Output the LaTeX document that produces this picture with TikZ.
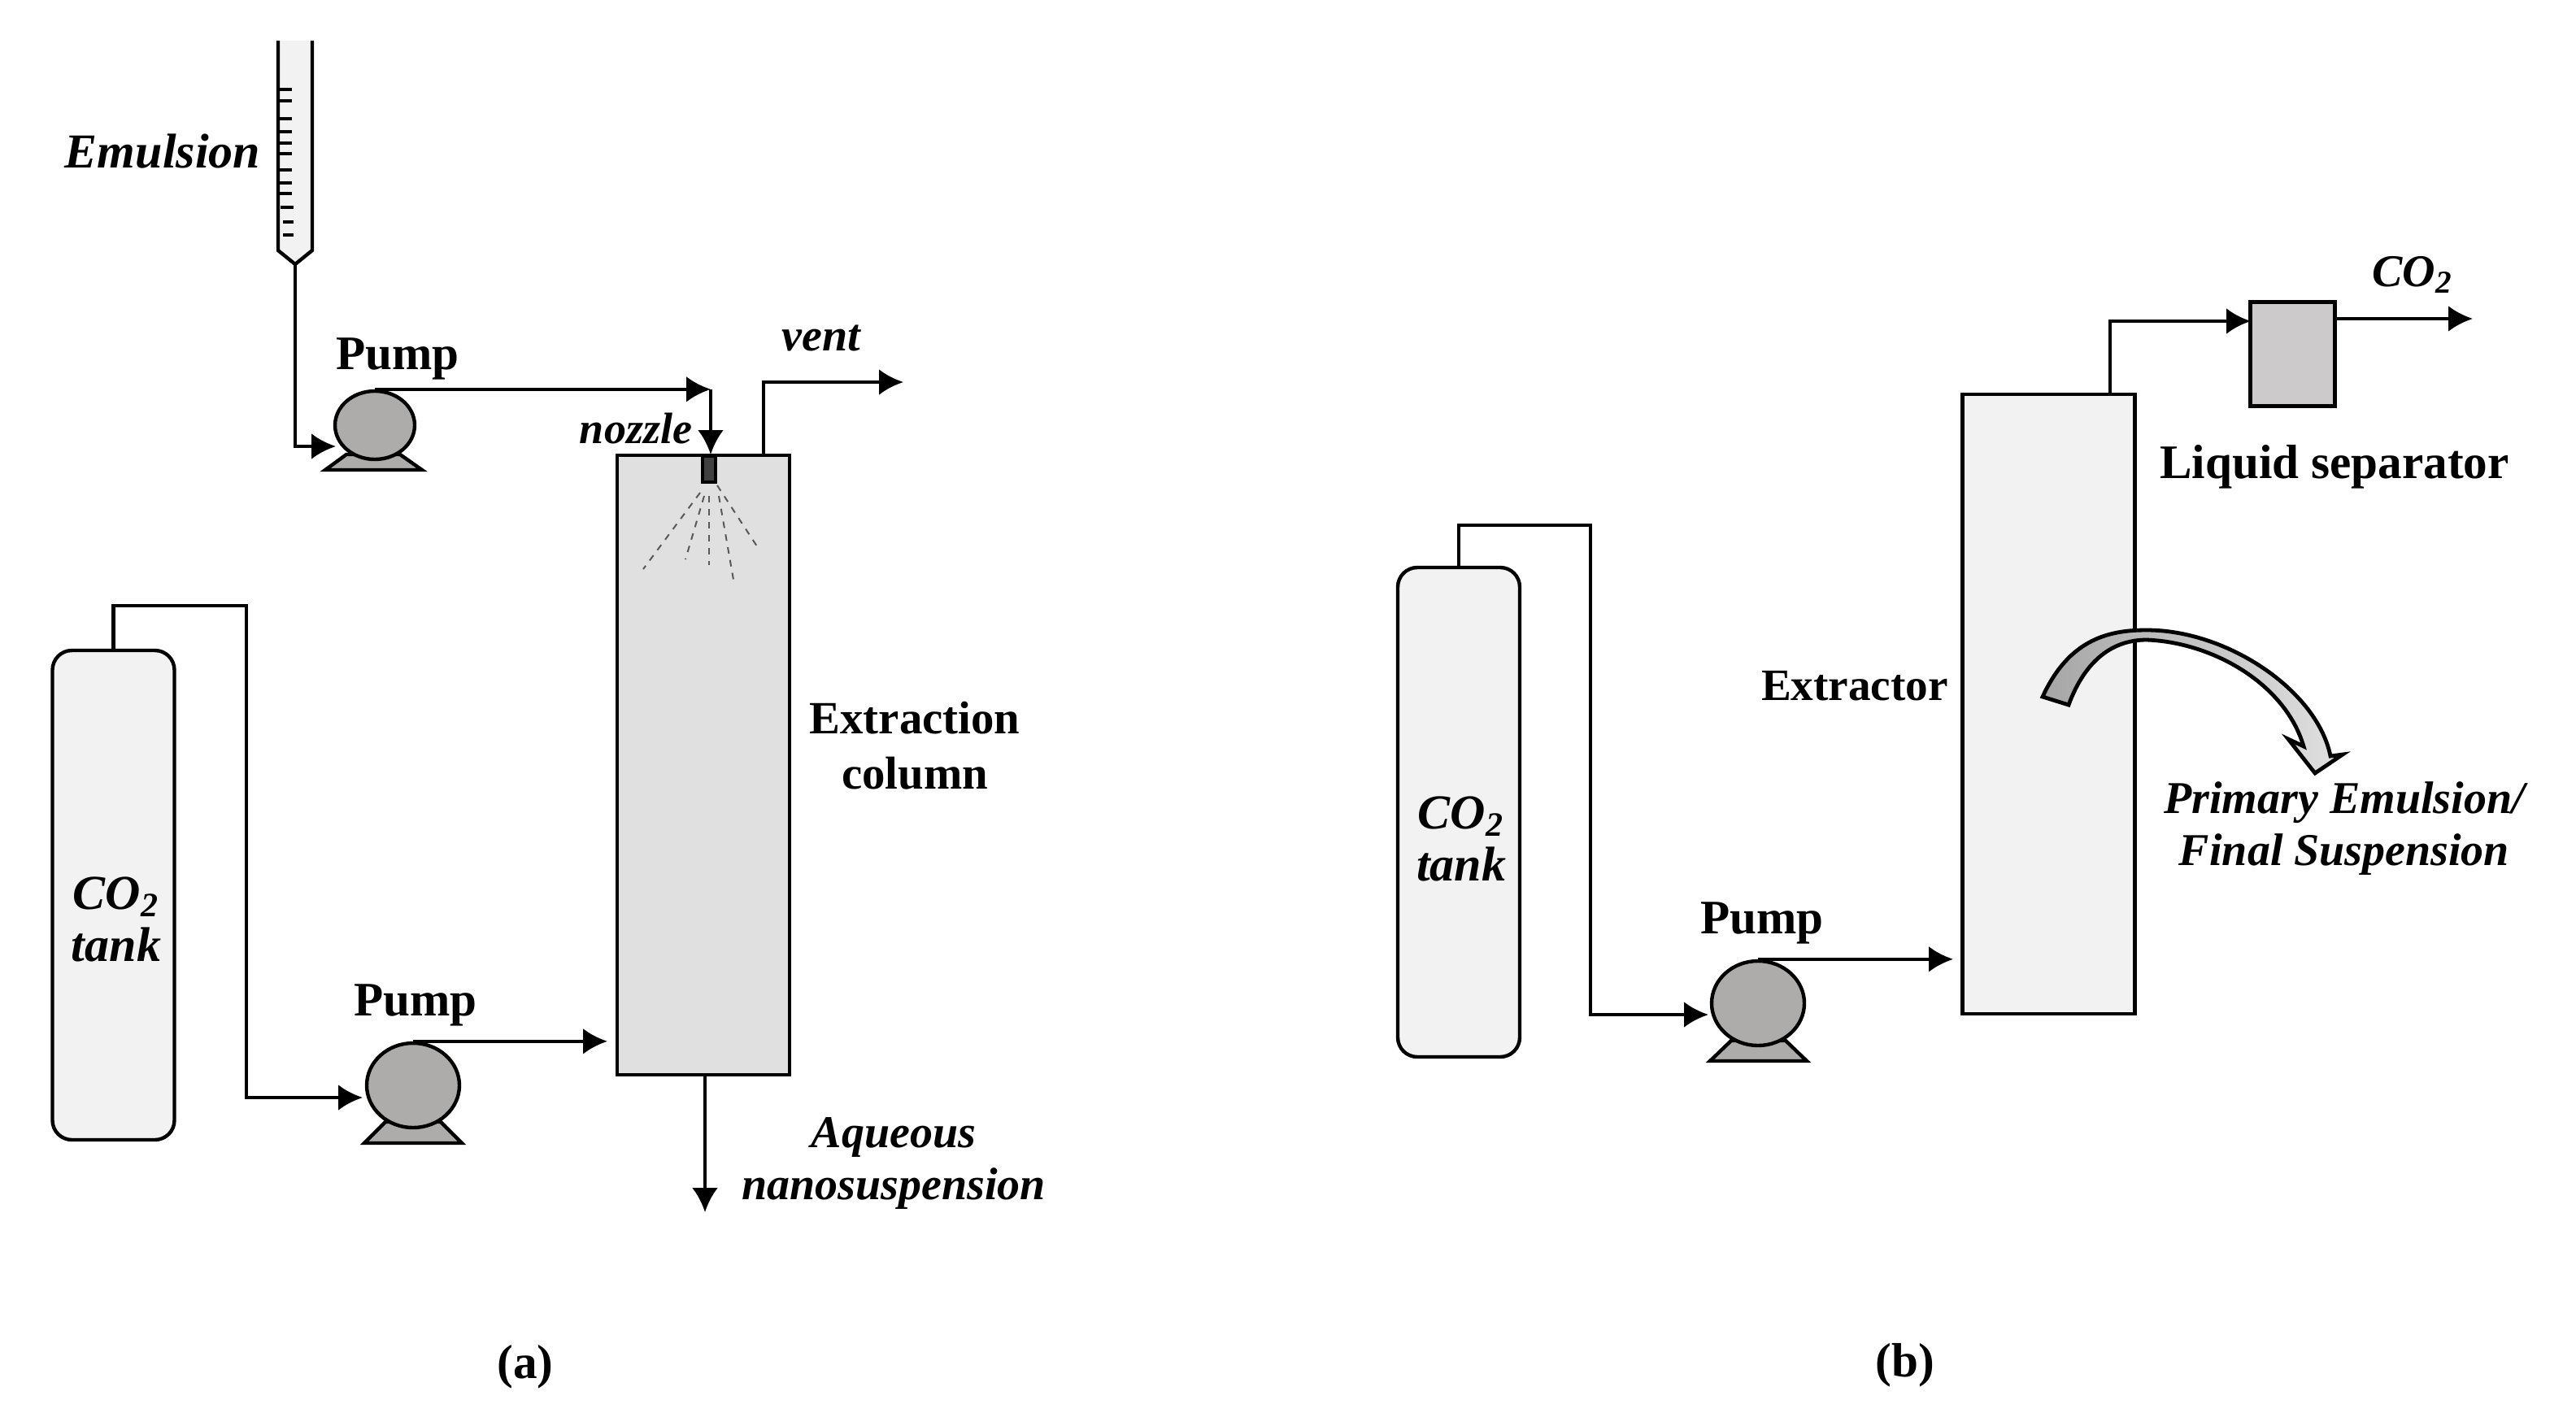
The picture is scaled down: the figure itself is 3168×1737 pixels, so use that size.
\documentclass[tikz,border=0pt]{standalone}
\usepackage{fontspec}
\setmainfont{Liberation Serif}
\usetikzlibrary{arrows.meta,shapes.geometric}
\definecolor{vesselfill}{HTML}{F2F2F2}
\definecolor{columnfill}{HTML}{E0E0E0}
\definecolor{pumpfill}{HTML}{AEABAB}
\definecolor{sepfill}{HTML}{CCCACA}
\definecolor{nozzlefill}{HTML}{404040}
\tikzset{
  flow/.style={line width=1.15pt,-{Latex[length=7.5pt,width=8pt]}},
  vessel/.style={draw,line width=1.1pt,fill=vesselfill,inner sep=0pt},
  tank/.style={vessel,rounded corners=6pt,minimum width=37.5pt,minimum height=150.5pt},
  pumpbody/.style={draw,line width=1.1pt,fill=pumpfill,ellipse,inner sep=0pt},
  pumpbase/.style={draw,line width=1.1pt,fill=pumpfill},
  spray/.style={line width=0.5pt,dash pattern=on 2pt off 2pt,color=black!65},
  txtbf/.style={font=\fontsize{14.8}{17}\selectfont\bfseries,align=center,inner sep=0pt},
  txtit/.style={font=\fontsize{14}{15.8}\selectfont\itshape\bfseries,align=center,inner sep=0pt},
  txtitbig/.style={txtit,font=\fontsize{15}{15.8}\selectfont\itshape\bfseries},
}
\begin{document}
\begin{tikzpicture}[x=0.25pt,y=0.25pt,yscale=-1,xscale=1]
\useasboundingbox (0,0) rectangle (3168,1737);

% Syringe
\draw [vessel] (342,50) -- (342,308) -- (363,325) -- (384,308) -- (384,50) ;
\draw [line width=1.2pt] (342,110) -- (359,110) (342,124) -- (359,124) (342,146) -- (359,146) (342,162) -- (359,162) (342,176) -- (359,176) (342,189) -- (359,189) (342,209) -- (359,209) (342,225) -- (359,225) (342,238) -- (359,238) (345,255) -- (361,255) (348,273) -- (361,273) (348,289) -- (361,289) ;
\coordinate (syrTip) at (363,325);

% Pump bases
\draw [pumpbase] (426,559) -- (400,578) -- (519,578) -- (492,559) -- cycle ;
\draw [pumpbase] (474,1380) -- (448,1406) -- (568,1406) -- (542,1380) -- cycle ;
\draw [pumpbase] (2129,1280) -- (2103,1305) -- (2222,1305) -- (2196,1280) -- cycle ;

% Pumps
\node [pumpbody,minimum width=24.5pt,minimum height=21pt] (pumpA) at (461,523) {};
\node [pumpbody,minimum width=28.5pt,minimum height=26pt] (pumpB) at (508,1335) {};
\node [pumpbody,minimum width=28.5pt,minimum height=26pt] (pumpC) at (2162,1234) {};

% Vessels
\node [tank] (tankA) at (139.5,1101) {};
\node [tank] (tankB) at (1794,999) {};
\node [vessel,fill=columnfill,minimum width=53pt,minimum height=190.5pt] (columnA) at (865,941) {};
\node [vessel,minimum width=53pt,minimum height=190.5pt] (extractor) at (2519.5,866) {};
\node [vessel,fill=sepfill,minimum width=26pt,minimum height=32pt] (separator) at (2819.5,435.5) {};
\node [draw,line width=1pt,fill=nozzlefill,minimum width=4pt,minimum height=8pt,inner sep=0pt] (nozzle) at (872,577) {};

% Free ends
\coordinate (pumpAIn) at (413,549);
\coordinate (nozzleIn) at (874,483);
\coordinate (ventStart) at (939,560);
\coordinate (ventOut) at (1111,470);
\coordinate (pipeA) at (303,745);
\coordinate (pumpBIn) at (446,1350);
\coordinate (columnIn) at (747,1283);
\coordinate (columnOut) at (867,1491);
\coordinate (pipeB) at (1956,646);
\coordinate (pumpCIn) at (2101,1248);
\coordinate (extractorIn) at (2402,1180);
\coordinate (extractorTop) at (2595,485);
\coordinate (separatorIn) at (2768,395);
\coordinate (co2Out) at (3041,392);

% Connectors (a)
\draw [flow] (syrTip) |- (pumpAIn) ;
\draw [flow] (pumpA.north) -- (pumpA.north -| nozzleIn) ;
\draw [flow] (pumpA.north -| nozzleIn) -- (nozzleIn |- nozzle.north) ;
\draw [flow] (ventStart) |- (ventOut) ;
\draw [flow] (tankA.north) |- (pipeA) |- (pumpBIn) ;
\draw [flow] (pumpB.north) -- (pumpB.north -| columnIn) ;
\draw [flow] (columnOut |- columnA.south) -- (columnOut) ;

% Connectors (b)
\draw [flow] (tankB.north) |- (pipeB) |- (pumpCIn) ;
\draw [flow] (pumpC.north) -- (pumpC.north -| extractorIn) ;
\draw [flow] (extractorTop) |- (separatorIn) ;
\draw [flow] (separator.east |- co2Out) -- (co2Out) ;

% Spray
\draw [spray] (861,606) -- (791,700) ;
\draw [spray] (866,610) -- (843,688) ;
\draw [spray] (872,610) -- (872,695) ;
\draw [spray] (884,610) -- (902,713) ;
\draw [spray] (882,597) -- (933,675) ;

% Curved arrow
\draw [line width=1.2pt,line join=miter,left color=black!35,right color=black!12] (2512,857) .. controls (2545,785) and (2595,775) .. (2640,775) .. controls (2740,775) and (2850,850) .. (2866,930) -- (2881,928) -- (2847,951) -- (2814,909) -- (2833,918) .. controls (2810,840) and (2720,790) .. (2640,787) .. controls (2600,787) and (2565,810) .. (2544,867) -- cycle ;

% Text Node
\node [txtitbig] (emulsionText) at (200,186) {Emulsion};
\node [txtbf] (pumpAText) at (489,441) {Pump};
\node [txtit] (ventText) at (1010,416) {vent};
\node [txtit,font=\fontsize{13.5}{15}\selectfont\itshape\bfseries] (nozzleText) at (782,527) {nozzle};
\node [txtbf,font=\fontsize{14.2}{17}\selectfont\bfseries] (columnText) at (1125,917) {Extraction\\column};
\node [txtit] (aqueousText) at (1099,1431) {Aqueous\\nanosuspension};
\node [txtitbig] (tankAText) at (143,1131) {CO\textsubscript{2}\\tank};
\node [txtbf] (pumpBText) at (511,1236) {Pump};
\node [txtbf] (captionA) at (646,1681) {(a)};
\node [txtit] (co2Text) at (2967,338) {CO\textsubscript{2}};
\node [txtbf] (separatorText) at (2871,574) {Liquid separator};
\node [txtbf,font=\fontsize{13.8}{17}\selectfont\bfseries] (extractorText) at (2281,844) {Extractor};
\node [txtit] (emulsionBText) at (2883,1019) {Primary Emulsion/\\Final Suspension};
\node [txtitbig] (tankBText) at (1797,1032) {CO\textsubscript{2}\\tank};
\node [txtbf] (pumpCText) at (2167,1135) {Pump};
\node [txtbf] (captionB) at (2343,1679) {(b)};

\end{tikzpicture}
\end{document}
